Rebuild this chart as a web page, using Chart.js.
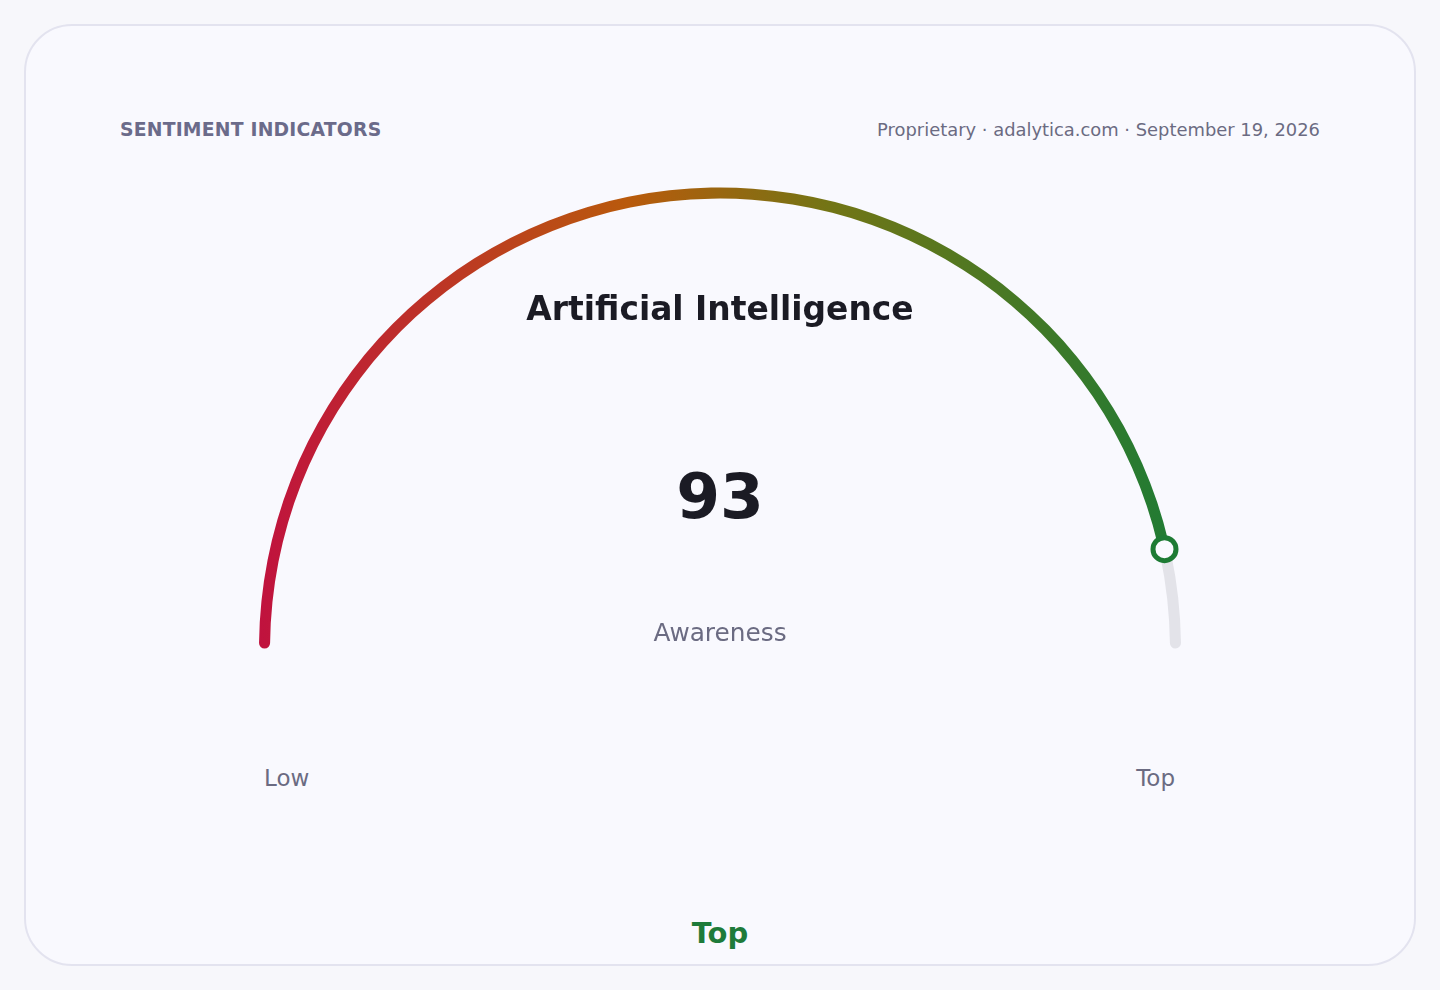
<!DOCTYPE html>
<html>
<head>
<meta charset="utf-8">
<script src="https://cdn.jsdelivr.net/npm/chart.js@4.4.1/dist/chart.umd.min.js"></script>
<style>
  html, body { margin: 0; padding: 0; }
  body { width: 1440px; height: 990px; background: #f7f7fb; position: relative; overflow: hidden;
         font-family: "DejaVu Sans", sans-serif; }
  .card { position: absolute; left: 24px; top: 24px; width: 1388px; height: 938px;
          border: 2px solid #e3e3ef; border-radius: 48px; background: #f9f9fe; }
  .t { position: absolute; white-space: nowrap; }
  #chartWrap { position: absolute; left: 239px; top: 173px; width: 962px; height: 500px; }
  #c { display: block; width: 962px; height: 500px; }
</style>
</head>
<body>
<div class="card"></div>
<div class="t" id="hdrL" style="left:120px; top:118px; font-size:18.8px; line-height:24px; font-weight:bold; letter-spacing:0.2px; color:#6b6b8a;"></div>
<div class="t" id="hdrR" style="right:120px; top:119px; font-size:17.9px; line-height:22px; color:#6b6b82;"></div>
<div id="chartWrap"><canvas id="c" width="962" height="500"></canvas></div>
<div class="t" id="title" style="left:0; width:1440px; text-align:center; top:288px; font-size:32.9px; line-height:42px; font-weight:bold; color:#1b1b24;"></div>
<div class="t" id="val" style="left:0; width:1440px; text-align:center; top:459px; font-size:63px; line-height:76px; font-weight:bold; color:#1b1b24;"></div>
<div class="t" id="metric" style="left:0; width:1440px; text-align:center; top:618px; font-size:24.8px; line-height:30px; color:#6b6b82;"></div>
<div class="t" id="lowLbl" style="left:264px; top:764px; font-size:23px; line-height:28px; color:#6b6b82;"></div>
<div class="t" id="topLbl" style="right:265px; top:764px; font-size:23px; line-height:28px; color:#6b6b82;"></div>
<div class="t" id="band" style="left:0; width:1440px; text-align:center; top:915px; font-size:29px; line-height:36px; font-weight:bold; color:#1e7b3a;"></div>

<script>
// ---- data ----
const headerLeft = ["SENTIMENT INDICATORS"];
const headerRight = ["Proprietary · adalytica.com · September 19, 2026"];
const topicTitle = ["Artificial Intelligence"];
const metricLabel = ["Awareness"];
const gaugeValue = [93];
const gaugeMax = [100];
const scaleLabels = ["Low", "Top"];
const bandLabel = ["Top"];

document.getElementById('hdrL').textContent = headerLeft[0];
document.getElementById('hdrR').textContent = headerRight[0];
document.getElementById('title').textContent = topicTitle[0];
document.getElementById('val').textContent = String(gaugeValue[0]);
document.getElementById('metric').textContent = metricLabel[0];
document.getElementById('lowLbl').textContent = scaleLabels[0];
document.getElementById('topLbl').textContent = scaleLabels[1];
document.getElementById('band').textContent = bandLabel[0];

function arcColor(context) {
  const chart = context.chart;
  const area = chart.chartArea;
  if (context.dataIndex === 1) return '#e3e3e9';
  if (!area) return '#1e7d32';
  const g = chart.ctx.createLinearGradient(area.left, 0, area.right, 0);
  g.addColorStop(0, '#c0123e');
  g.addColorStop(0.4, '#b95a0c');
  g.addColorStop(0.62, '#727515');
  g.addColorStop(1, '#1e7b34');
  return g;
}

const markerPlugin = {
  id: 'marker',
  afterDatasetsDraw(chart) {
    const meta = chart.getDatasetMeta(0);
    const arc = meta.data[0];
    if (!arc) return;
    const p = arc.getProps(['x', 'y', 'endAngle', 'outerRadius', 'innerRadius'], true);
    const r = (p.outerRadius + p.innerRadius) / 2;
    const x = p.x + Math.cos(p.endAngle) * r;
    const y = p.y + Math.sin(p.endAngle) * r;
    const ctx = chart.ctx;
    ctx.save();
    ctx.beginPath();
    ctx.arc(x, y, 11.5, 0, Math.PI * 2);
    ctx.fillStyle = '#fafaff';
    ctx.fill();
    ctx.lineWidth = 5;
    ctx.strokeStyle = '#1e7b34';
    ctx.stroke();
    ctx.restore();
  }
};

new Chart(document.getElementById('c'), {
  type: 'doughnut',
  data: {
    labels: [metricLabel[0], ''],
    datasets: [{
      data: [gaugeValue[0], gaugeMax[0] - gaugeValue[0]],
      backgroundColor: arcColor,
      borderWidth: 0,
      borderRadius: 6,
      spacing: 0
    }]
  },
  options: {
    responsive: false,
    maintainAspectRatio: false,
    devicePixelRatio: 1,
    animation: false,
    events: [],
    rotation: -90,
    circumference: 180,
    cutout: '97.6%',
    layout: { padding: { left: 20, right: 20, top: 10, bottom: 20 } },
    plugins: { legend: { display: false }, tooltip: { enabled: false } }
  },
  plugins: [markerPlugin]
});
</script>
</body>
</html>
